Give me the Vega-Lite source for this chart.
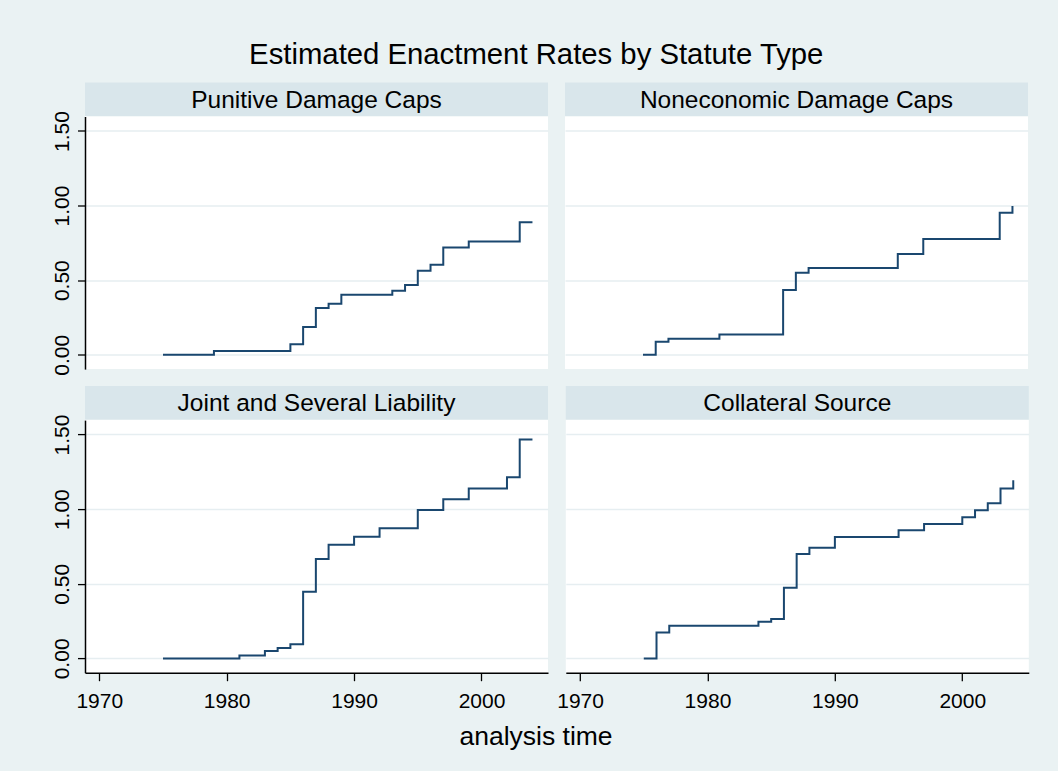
{
  "$schema": "https://vega.github.io/schema/vega-lite/v6.json",
  "background": "#EAF2F3",
  "padding": {"left": 51, "top": 40.5, "right": 31, "bottom": 20},
  "title": {"text": "Estimated Enactment Rates by Statute Type", "fontSize": 29.3, "fontWeight": "normal", "font": "Liberation Sans", "color": "black", "anchor": "middle", "frame": "bounds", "baseline": "alphabetic", "offset": -10.5, "dx": -4},
  "datasets": {
    "km": [
      {"statute": "Punitive Damage Caps", "year": 1975, "rate": 0},
      {"statute": "Punitive Damage Caps", "year": 1979, "rate": 0.025},
      {"statute": "Punitive Damage Caps", "year": 1985, "rate": 0.07},
      {"statute": "Punitive Damage Caps", "year": 1986, "rate": 0.186},
      {"statute": "Punitive Damage Caps", "year": 1987, "rate": 0.313},
      {"statute": "Punitive Damage Caps", "year": 1988, "rate": 0.342},
      {"statute": "Punitive Damage Caps", "year": 1989, "rate": 0.402},
      {"statute": "Punitive Damage Caps", "year": 1993, "rate": 0.429},
      {"statute": "Punitive Damage Caps", "year": 1994, "rate": 0.467},
      {"statute": "Punitive Damage Caps", "year": 1995, "rate": 0.563},
      {"statute": "Punitive Damage Caps", "year": 1996, "rate": 0.603},
      {"statute": "Punitive Damage Caps", "year": 1997, "rate": 0.719},
      {"statute": "Punitive Damage Caps", "year": 1999, "rate": 0.76},
      {"statute": "Punitive Damage Caps", "year": 2003, "rate": 0.889},
      {"statute": "Punitive Damage Caps", "year": 2004, "rate": 0.889},
      {"statute": "Noneconomic Damage Caps", "year": 1975, "rate": 0},
      {"statute": "Noneconomic Damage Caps", "year": 1976, "rate": 0.087},
      {"statute": "Noneconomic Damage Caps", "year": 1977, "rate": 0.107},
      {"statute": "Noneconomic Damage Caps", "year": 1981, "rate": 0.136},
      {"statute": "Noneconomic Damage Caps", "year": 1986, "rate": 0.434},
      {"statute": "Noneconomic Damage Caps", "year": 1987, "rate": 0.55},
      {"statute": "Noneconomic Damage Caps", "year": 1988, "rate": 0.581},
      {"statute": "Noneconomic Damage Caps", "year": 1995, "rate": 0.675},
      {"statute": "Noneconomic Damage Caps", "year": 1997, "rate": 0.776},
      {"statute": "Noneconomic Damage Caps", "year": 2003, "rate": 0.952},
      {"statute": "Noneconomic Damage Caps", "year": 2004, "rate": 0.997},
      {"statute": "Joint and Several Liability", "year": 1975, "rate": 0},
      {"statute": "Joint and Several Liability", "year": 1981, "rate": 0.02},
      {"statute": "Joint and Several Liability", "year": 1983, "rate": 0.049},
      {"statute": "Joint and Several Liability", "year": 1984, "rate": 0.069},
      {"statute": "Joint and Several Liability", "year": 1985, "rate": 0.094},
      {"statute": "Joint and Several Liability", "year": 1986, "rate": 0.447},
      {"statute": "Joint and Several Liability", "year": 1987, "rate": 0.666},
      {"statute": "Joint and Several Liability", "year": 1988, "rate": 0.762},
      {"statute": "Joint and Several Liability", "year": 1990, "rate": 0.816},
      {"statute": "Joint and Several Liability", "year": 1992, "rate": 0.872},
      {"statute": "Joint and Several Liability", "year": 1995, "rate": 0.995},
      {"statute": "Joint and Several Liability", "year": 1997, "rate": 1.066},
      {"statute": "Joint and Several Liability", "year": 1999, "rate": 1.138},
      {"statute": "Joint and Several Liability", "year": 2002, "rate": 1.214},
      {"statute": "Joint and Several Liability", "year": 2003, "rate": 1.467},
      {"statute": "Joint and Several Liability", "year": 2004, "rate": 1.467},
      {"statute": "Collateral Source", "year": 1975, "rate": 0},
      {"statute": "Collateral Source", "year": 1976, "rate": 0.174},
      {"statute": "Collateral Source", "year": 1977, "rate": 0.219},
      {"statute": "Collateral Source", "year": 1984, "rate": 0.246},
      {"statute": "Collateral Source", "year": 1985, "rate": 0.264},
      {"statute": "Collateral Source", "year": 1986, "rate": 0.474},
      {"statute": "Collateral Source", "year": 1987, "rate": 0.70},
      {"statute": "Collateral Source", "year": 1988, "rate": 0.742},
      {"statute": "Collateral Source", "year": 1990, "rate": 0.814},
      {"statute": "Collateral Source", "year": 1995, "rate": 0.858},
      {"statute": "Collateral Source", "year": 1997, "rate": 0.901},
      {"statute": "Collateral Source", "year": 2000, "rate": 0.946},
      {"statute": "Collateral Source", "year": 2001, "rate": 0.993},
      {"statute": "Collateral Source", "year": 2002, "rate": 1.04},
      {"statute": "Collateral Source", "year": 2003, "rate": 1.138},
      {"statute": "Collateral Source", "year": 2004, "rate": 1.194}
    ]
  },
  "vconcat": [
    {
      "hconcat": [
        {
          "vconcat": [
            {"width": 463, "height": 33.4, "data": {"values": [{"label": "Punitive Damage Caps"}]}, "mark": {"type": "text", "fontSize": 24.5, "font": "Liberation Sans", "color": "black", "baseline": "alphabetic", "dy": 8.3}, "encoding": {"text": {"field": "label"}}, "view": {"fill": "#D9E6EB", "stroke": null}},
            {"width": 463, "height": 252.6, "data": {"name": "km"}, "transform": [{"filter": "datum.statute === 'Punitive Damage Caps'"}],
             "mark": {"type": "line", "interpolate": "step-after", "color": "#1A476F", "strokeWidth": 2},
             "encoding": {
               "x": {"field": "year", "type": "quantitative", "scale": {"domain": [1968.88, 2005.22], "nice": false, "zero": false}, "axis": null},
               "y": {"field": "rate", "type": "quantitative", "scale": {"domain": [-0.096, 1.597], "nice": false, "zero": false}, "axis": {"values": [0, 0.5, 1, 1.5], "format": ".2f", "title": null, "grid": true, "gridColor": "#E6EEF1", "gridWidth": 1.5, "domainColor": "black", "domainWidth": 1.5, "tickColor": "black", "tickWidth": 1.3, "tickSize": 7.5, "labelAngle": 270, "labelAlign": "center", "labelBaseline": "alphabetic", "labelPadding": 8.8, "labelFontSize": 21, "labelColor": "black", "labelFont": "Liberation Sans", "labelFlush": false, "labelOverlap": false}}
             },
             "view": {"fill": "white", "stroke": null}}
          ],
          "spacing": 0, "bounds": "flush"
        },
        {
          "vconcat": [
            {"width": 463, "height": 33.4, "data": {"values": [{"label": "Noneconomic Damage Caps"}]}, "mark": {"type": "text", "fontSize": 24.5, "font": "Liberation Sans", "color": "black", "baseline": "alphabetic", "dy": 8.3}, "encoding": {"text": {"field": "label"}}, "view": {"fill": "#D9E6EB", "stroke": null}},
            {"width": 463, "height": 252.6, "data": {"name": "km"}, "transform": [{"filter": "datum.statute === 'Noneconomic Damage Caps'"}],
             "mark": {"type": "line", "interpolate": "step-after", "color": "#1A476F", "strokeWidth": 2},
             "encoding": {
               "x": {"field": "year", "type": "quantitative", "scale": {"domain": [1968.88, 2005.22], "nice": false, "zero": false}, "axis": null},
               "y": {"field": "rate", "type": "quantitative", "scale": {"domain": [-0.096, 1.597], "nice": false, "zero": false}, "axis": {"values": [0, 0.5, 1, 1.5], "title": null, "grid": true, "gridColor": "#E6EEF1", "gridWidth": 1.5, "labels": false, "ticks": false, "domain": false}}
             },
             "view": {"fill": "white", "stroke": null}}
          ],
          "spacing": 0, "bounds": "flush"
        }
      ],
      "spacing": 17
    },
    {
      "hconcat": [
        {
          "vconcat": [
            {"width": 463, "height": 33.4, "data": {"values": [{"label": "Joint and Several Liability"}]}, "mark": {"type": "text", "fontSize": 24.5, "font": "Liberation Sans", "color": "black", "baseline": "alphabetic", "dy": 8.3}, "encoding": {"text": {"field": "label"}}, "view": {"fill": "#D9E6EB", "stroke": null}},
            {"width": 463, "height": 252.6, "data": {"name": "km"}, "transform": [{"filter": "datum.statute === 'Joint and Several Liability'"}],
             "mark": {"type": "line", "interpolate": "step-after", "color": "#1A476F", "strokeWidth": 2},
             "encoding": {
               "x": {"field": "year", "type": "quantitative", "scale": {"domain": [1968.88, 2005.22], "nice": false, "zero": false}, "axis": {"values": [1970, 1980, 1990, 2000], "format": "d", "title": null, "grid": false, "domainColor": "black", "domainWidth": 1.5, "tickColor": "black", "tickWidth": 1.3, "tickSize": 8, "labelPadding": 10, "labelBaseline": "top", "labelFontSize": 21, "labelColor": "black", "labelFont": "Liberation Sans", "labelFlush": false, "labelOverlap": false}},
               "y": {"field": "rate", "type": "quantitative", "scale": {"domain": [-0.096, 1.597], "nice": false, "zero": false}, "axis": {"values": [0, 0.5, 1, 1.5], "format": ".2f", "title": null, "grid": true, "gridColor": "#E6EEF1", "gridWidth": 1.5, "domainColor": "black", "domainWidth": 1.5, "tickColor": "black", "tickWidth": 1.3, "tickSize": 7.5, "labelAngle": 270, "labelAlign": "center", "labelBaseline": "alphabetic", "labelPadding": 8.8, "labelFontSize": 21, "labelColor": "black", "labelFont": "Liberation Sans", "labelFlush": false, "labelOverlap": false}}
             },
             "view": {"fill": "white", "stroke": null}}
          ],
          "spacing": 0, "bounds": "flush"
        },
        {
          "vconcat": [
            {"width": 463, "height": 33.4, "data": {"values": [{"label": "Collateral Source"}]}, "mark": {"type": "text", "fontSize": 24.5, "font": "Liberation Sans", "color": "black", "baseline": "alphabetic", "dy": 8.3}, "encoding": {"text": {"field": "label"}}, "view": {"fill": "#D9E6EB", "stroke": null}},
            {"width": 463, "height": 252.6, "data": {"name": "km"}, "transform": [{"filter": "datum.statute === 'Collateral Source'"}],
             "mark": {"type": "line", "interpolate": "step-after", "color": "#1A476F", "strokeWidth": 2},
             "encoding": {
               "x": {"field": "year", "type": "quantitative", "scale": {"domain": [1968.88, 2005.22], "nice": false, "zero": false}, "axis": {"values": [1970, 1980, 1990, 2000], "format": "d", "title": null, "grid": false, "domainColor": "black", "domainWidth": 1.5, "tickColor": "black", "tickWidth": 1.3, "tickSize": 8, "labelPadding": 10, "labelBaseline": "top", "labelFontSize": 21, "labelColor": "black", "labelFont": "Liberation Sans", "labelFlush": false, "labelOverlap": false}},
               "y": {"field": "rate", "type": "quantitative", "scale": {"domain": [-0.096, 1.597], "nice": false, "zero": false}, "axis": {"values": [0, 0.5, 1, 1.5], "title": null, "grid": true, "gridColor": "#E6EEF1", "gridWidth": 1.5, "labels": false, "ticks": false, "domain": false}}
             },
             "view": {"fill": "white", "stroke": null}}
          ],
          "spacing": 0, "bounds": "flush"
        }
      ],
      "spacing": 7.8
    },
    {"width": 902, "height": 30, "data": {"values": [{"label": "analysis time"}]}, "mark": {"type": "text", "fontSize": 26.5, "font": "Liberation Sans", "color": "black", "baseline": "alphabetic", "dy": 7.1}, "encoding": {"text": {"field": "label"}}}
  ],
  "spacing": 10.6,
  "config": {"view": {"stroke": null}, "font": "Liberation Sans"}
}
